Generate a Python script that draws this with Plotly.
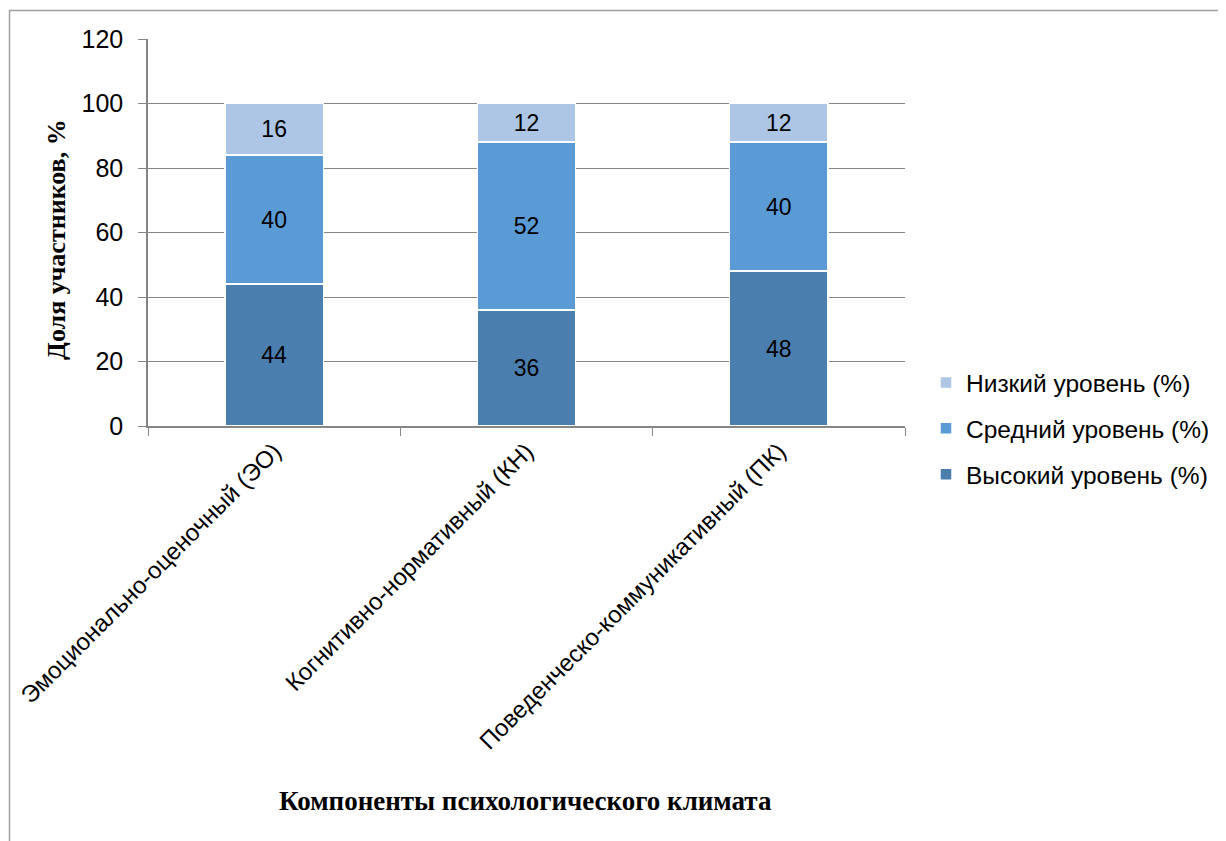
import plotly.graph_objects as go

categories = ["Эмоционально-оценочный (ЭО)", "Когнитивно-нормативный (КН)", "Поведенческо-коммуникативный (ПК)"]
high = [44, 36, 48]
mid = [40, 52, 40]
low = [16, 12, 12]
series_names = ["Высокий уровень (%)", "Средний уровень (%)", "Низкий уровень (%)"]
colors = ["#4A7EAF", "#5B9BD5", "#ADC6E5"]
y_ticks = [0, 20, 40, 60, 80, 100, 120]

SERIF = "Liberation Serif"   # bold face available for titles
SANS = "Liberation Sans"     # regular text
OFF = 8  # page body margin
W, H = 1226 - OFF, 841 - OFF
L, R, T, B = 148 - OFF, 905 - OFF, 39 - OFF, 426 - OFF


def px(x):
    return (x - OFF - L) / (R - L)


def py(y):
    return (B - (y - OFF)) / (B - T)


fig = go.Figure()
for i, (name, vals, col) in enumerate(zip(series_names, [high, mid, low], colors)):
    fig.add_trace(go.Bar(
        x=categories, y=vals, name=name, legendgroup="g%d" % i,
        legendrank=3 - i,
        marker=dict(color=col, line=dict(color="white", width=1.5)),
        text=[str(v) for v in vals], textposition="inside",
        insidetextanchor="middle",
        textfont=dict(family=SANS, size=23, color="black"),
        cliponaxis=False,
    ))

fig.update_layout(
    width=W, height=H,
    barmode="stack", bargap=0.61,
    plot_bgcolor="white", paper_bgcolor="white",
    font=dict(family=SANS, size=22, color="black"),
    margin=dict(l=L, r=W - R, t=T, b=H - B, pad=0, autoexpand=False),
    legend=dict(
        traceorder="grouped",
        x=px(926), xanchor="left",
        y=py(360), yanchor="top",
        font=dict(family=SANS, size=24.5, color="black"),
        itemwidth=30, bgcolor="rgba(0,0,0,0)",
        tracegroupgap=11,
    ),
    xaxis=dict(
        showline=True, linecolor="#868686", linewidth=1.5,
        ticks="outside", tickson="boundaries", ticklen=8, tickcolor="#868686",
        tickangle=-45, tickfont=dict(family=SANS, size=24, color="black"),
        showgrid=False, automargin=False,
    ),
    yaxis=dict(
        range=[0, 120], tickvals=y_ticks,
        showline=True, linecolor="#868686", linewidth=1.5,
        ticks="outside", ticklen=8, tickcolor="#868686",
        ticklabelstandoff=10,
        showgrid=True, gridcolor="#868686", gridwidth=1.2,
        tickfont=dict(family=SANS, size=25, color="black"),
        zeroline=False, automargin=False,
    ),
    annotations=[
        dict(text="<b>Доля участников, %</b>", xref="paper", yref="paper",
             x=px(56), y=py(240), xanchor="center", yanchor="middle", textangle=-90,
             showarrow=False, font=dict(family=SERIF, size=26, color="black")),
        dict(text="<b>Компоненты психологического климата</b>", xref="paper", yref="paper",
             x=px(525), y=py(801), xanchor="center", yanchor="middle",
             showarrow=False, font=dict(family=SERIF, size=27, color="black")),
    ],
    shapes=[
        dict(type="path", xref="paper", yref="paper",
             path="M {x0},{y1} L {x0},{y0} L {x1},{y0}".format(
                 x0=px(9.5), y0=py(10.5), x1=px(1300), y1=py(900)),
             line=dict(color="#A0A0A0", width=1.5)),
    ],
)

fig.write_html("out.html")
